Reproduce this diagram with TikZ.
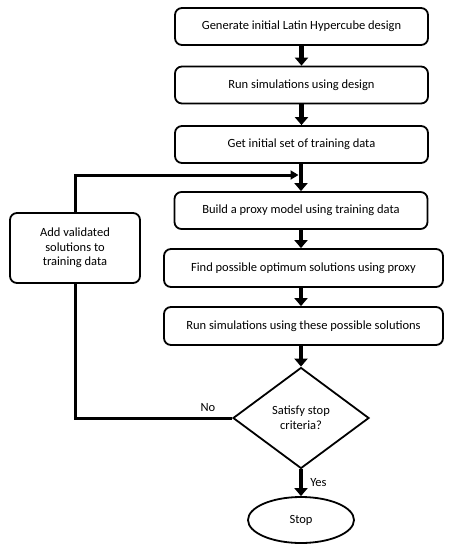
\documentclass[tikz,border=0pt]{standalone}
\usepackage{fontspec}
\setmainfont{Carlito}
\usetikzlibrary{positioning,arrows.meta,shapes.geometric}

\begin{document}
\begin{tikzpicture}[
  x=1pt, y=-1pt,
  font=\fontsize{12.5}{14.7}\selectfont,
  box/.style  = {draw, line width=1.8pt, rounded corners=7pt, align=center,
                 inner sep=2pt, fill=white},
  wide/.style = {box, minimum width=253pt, minimum height=37pt},
  wider/.style= {box, minimum width=279pt, minimum height=38pt},
  dec/.style  = {draw, line width=1.8pt, diamond, inner sep=0pt, align=center,
                 minimum width=136pt, minimum height=101pt, fill=white},
  term/.style = {draw, line width=1.8pt, ellipse, inner sep=0pt,
                 minimum width=106pt, minimum height=46pt, fill=white},
  fl/.style   = {-{Triangle[length=8pt,width=13pt]}, line width=4.5pt},
  lp/.style   = {line width=3pt},
  lbl/.style  = {inner sep=1pt},
]
\useasboundingbox (0,0) rectangle (450,550);

% ---------------- main column ------------------------------------------
\node[wide]  (lhs)  at (301.5, 26.5) {Generate initial Latin Hypercube design};
\node[wide]  (sim)  at (301.5, 85)   {Run simulations using design};
\node[wide]  (init) at (301.5, 144.5) {Get initial set of training data};
\node[wide]  (prx)  at (301, 210.5)  {Build a proxy model using training data};
\node[wider] (opt)  at (303.5, 268)  {Find possible optimum solutions using proxy};
\node[wider] (rsim) at (303.5, 326)  {Run simulations using these possible solutions};
\node[dec]   (stc)  at (301, 418)    {Satisfy stop\\criteria?};
\node[term]  (stp)  at (301, 520)    {Stop};

% ---------------- feedback box -----------------------------------------
\node[box, minimum width=130pt, minimum height=70pt] (add) at (75, 248)
  {Add validated\\solutions to\\training data};

\coordinate (join) at (301, 175);

% ---------------- edges -------------------------------------------------
\draw[fl] (lhs) -- (sim);
\draw[fl] (sim) -- (init);
\draw[fl] (init.south -| prx.north) -- (prx.north);
\draw[fl] (prx) -- (prx.south |- opt.north);
\draw[fl] (prx.south |- opt.south) -- (prx.south |- rsim.north);
\draw[fl] (prx.south |- rsim.south) -- (stc.north);
\draw[fl] (stc) -- (stp) node[lbl, right=6pt, midway] {Yes};

% loop back through the add box
\draw[lp] (stc.west) -- (stc.west -| add.south) -- (add.south);
\draw[lp, -{Triangle[length=8pt,width=9pt]}, shorten >=2.5pt]
  (add.north) |- (join);
\node[lbl] (no) at (208, 408) {No};

\end{tikzpicture}
\end{document}
